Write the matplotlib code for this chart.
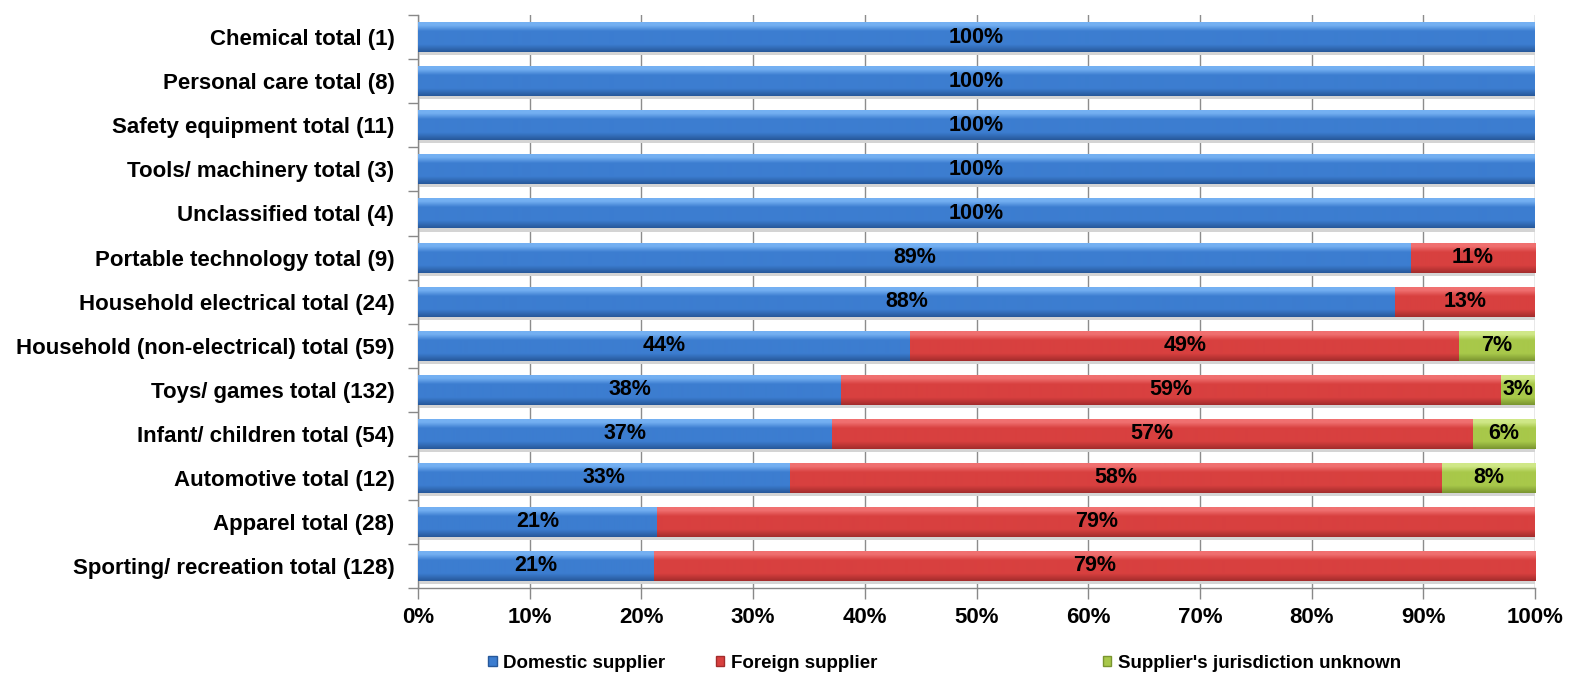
import numpy as np
import matplotlib.pyplot as plt
from matplotlib.colors import to_rgb
from matplotlib.patches import Patch, Rectangle

plt.rcParams['font.family'] = ['Liberation Sans', 'DejaVu Sans']
plt.rcParams['font.weight'] = 'bold'

# categories top to bottom, with number of incidents per supplier type
categories = [
    'Chemical total (1)', 'Personal care total (8)', 'Safety equipment total (11)',
    'Tools/ machinery total (3)', 'Unclassified total (4)', 'Portable technology total (9)',
    'Household electrical total (24)', 'Household (non-electrical) total (59)',
    'Toys/ games total (132)', 'Infant/ children total (54)', 'Automotive total (12)',
    'Apparel total (28)', 'Sporting/ recreation total (128)',
]
domestic = [1, 8, 11, 3, 4, 8, 21, 26, 50, 20, 4, 6, 27]
foreign = [0, 0, 0, 0, 0, 1, 3, 29, 78, 31, 7, 22, 101]
unknown = [0, 0, 0, 0, 0, 0, 0, 4, 4, 3, 1, 0, 0]
series_names = ['Domestic supplier', 'Foreign supplier', "Supplier's jurisdiction unknown"]

# (top highlight, body, bottom edge)
shades = [
    ('#74b0f2', '#3c7dd0', '#27589a'),
    ('#f07070', '#d8403f', '#a32c2c'),
    ('#d0e888', '#a8c84a', '#7a9530'),
]

counts = np.array([domestic, foreign, unknown], dtype=float)
pct = counts / counts.sum(axis=0) * 100

n = len(categories)
ypos = np.arange(n)[::-1]
height = 0.68


def gradient(top, body, bottom, rows=60):
    t = np.linspace(0, 1, rows)
    c_top, c_body, c_bot = (np.array(to_rgb(c)) for c in (top, body, bottom))
    img = np.empty((rows, 1, 3))
    for k, v in enumerate(t):
        if v < 0.1:
            col = c_top
        elif v < 0.3:
            f = (v - 0.1) / 0.2
            col = c_top * (1 - f) + c_body * f
        elif v < 0.75:
            col = c_body
        else:
            f = (v - 0.75) / 0.25
            col = c_body * (1 - f) + c_bot * f
        img[k, 0] = col
    return img


fig = plt.figure(figsize=(15.8, 6.9), dpi=100)
ax = fig.add_axes([0.2646, 0.1478, 0.7069, 0.8302])

left = np.zeros(n)
for s in range(3):
    bars = ax.barh(ypos, pct[s], left=left, height=height, color=shades[s][1],
                   edgecolor='none', zorder=3)
    img = gradient(*shades[s])
    for b, v in zip(bars, pct[s]):
        if v <= 0:
            continue
        x0, y0, w, h = b.get_x(), b.get_y(), b.get_width(), b.get_height()
        # soft shadow under the bar
        ax.add_patch(Rectangle((x0, y0 - 0.07), w, 0.07, color='#d4d4d4',
                               lw=0, zorder=2))
        im = ax.imshow(img, extent=[x0, x0 + w, y0, y0 + h], aspect='auto',
                       origin='upper', zorder=4, interpolation='bilinear')
        im.set_clip_path(b)
        # round half up, as spreadsheet percentages do
        label = int(np.floor(v + 0.5))
        ax.text(x0 + w / 2, y0 + h / 2, f'{label}%', ha='center', va='center',
                fontsize=15.5, fontweight='bold', color='black', zorder=5)
    left += pct[s]

ax.set_xlim(0, 100)
ax.set_ylim(-0.5, n - 0.5)
ax.set_xticks(np.arange(0, 101, 10))
ax.set_xticklabels([f'{v}%' for v in range(0, 101, 10)], fontsize=16)
ax.set_yticks(ypos)
ax.set_yticklabels(categories, fontsize=16)
ax.set_yticks(np.arange(-0.5, n, 1), minor=True)
ax.tick_params(axis='y', which='major', length=0, pad=17)
ax.tick_params(axis='y', which='minor', length=7, color='#888888', width=1)
ax.tick_params(axis='x', length=8, color='#888888', width=1, pad=6)
ax.xaxis.grid(True, color='#8c8c8c', linewidth=1, zorder=0)
ax.set_axisbelow(True)
for side in ('top', 'right'):
    ax.spines[side].set_visible(False)
for side in ('left', 'bottom'):
    ax.spines[side].set_color('#888888')
    ax.spines[side].set_linewidth(1)

# legend entries are spaced unevenly, so each gets its own box
legend_x = [0.309, 0.453, 0.698]
for s in range(3):
    handle = Patch(facecolor=shades[s][1], edgecolor=shades[s][2])
    fig.legend([handle], [series_names[s]], loc='center left',
               bbox_to_anchor=(legend_x[s], 0.039), frameon=False, fontsize=13.5,
               handlelength=0.45, handleheight=0.45, handletextpad=0.35,
               borderaxespad=0, borderpad=0)

fig.savefig('out.png', dpi=100)
